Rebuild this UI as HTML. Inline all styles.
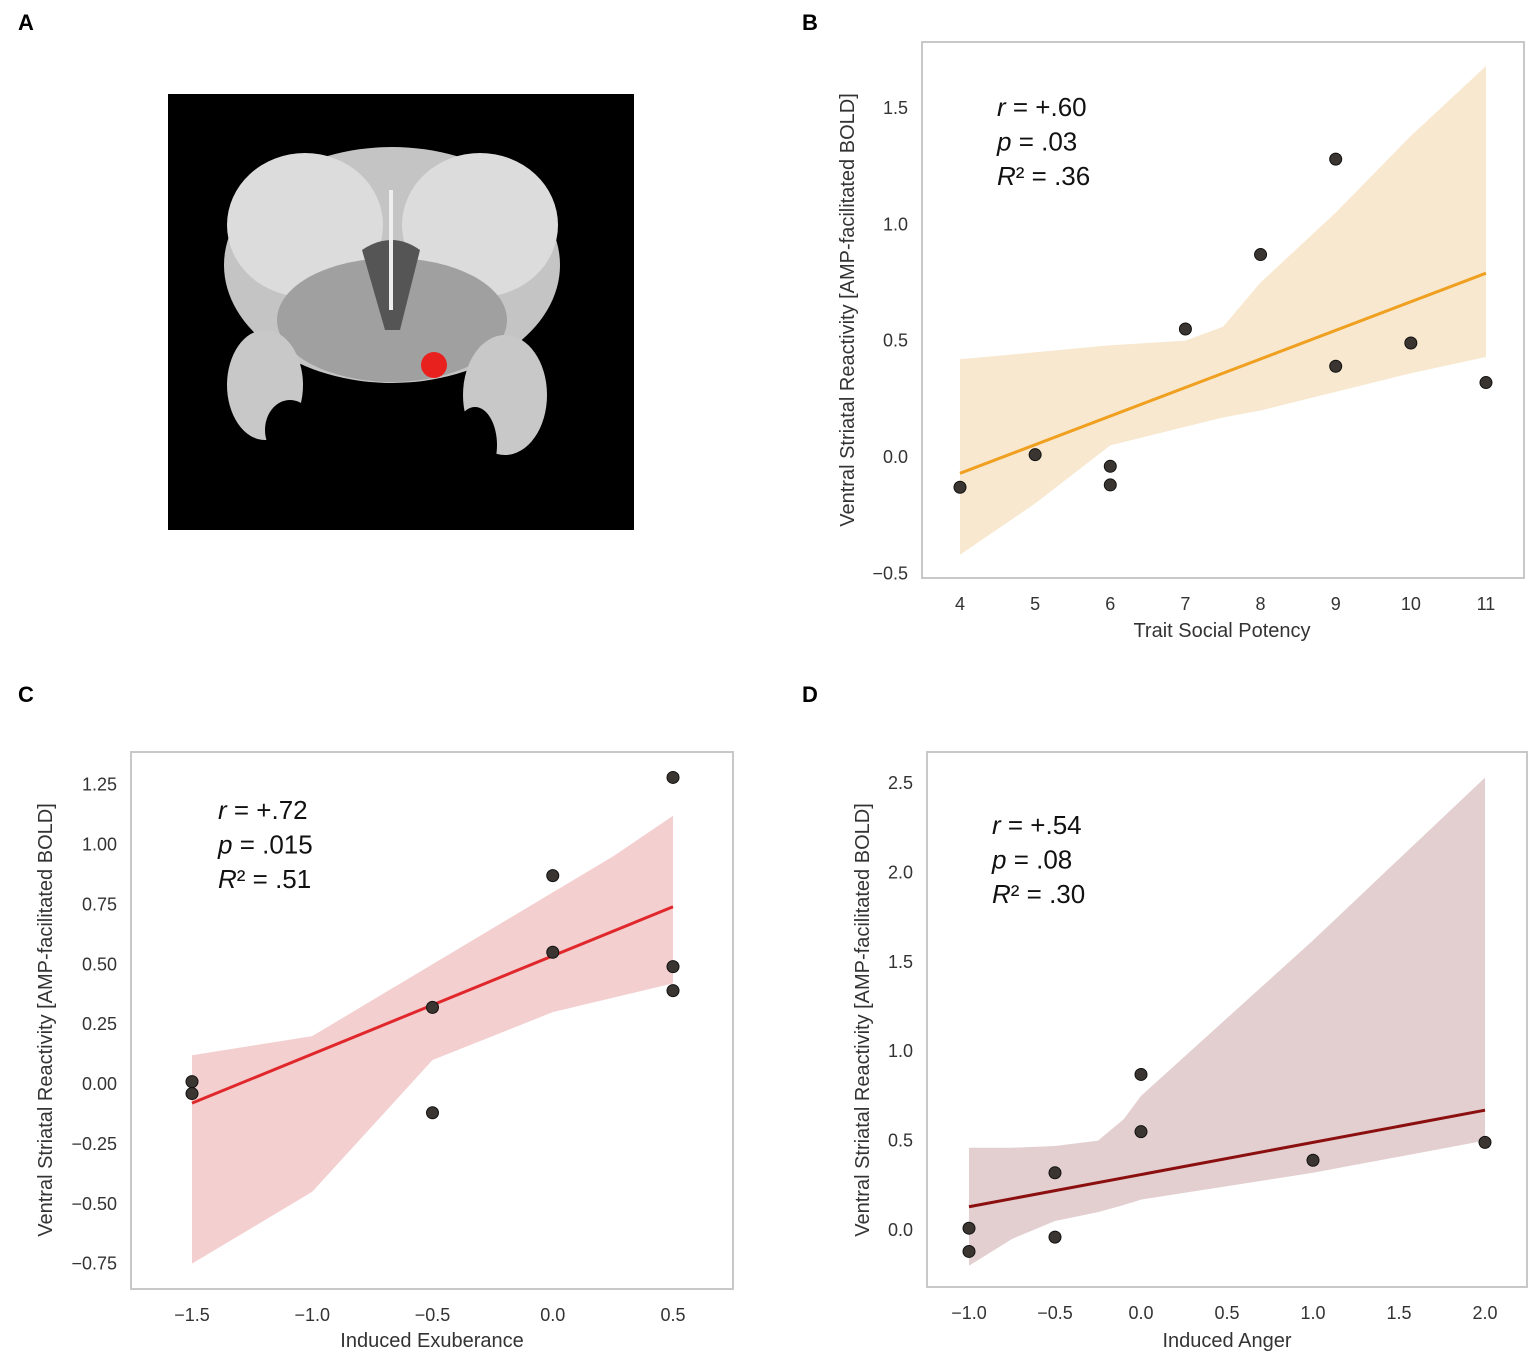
<!DOCTYPE html>
<html><head><meta charset="utf-8"><style>
body{margin:0;background:#fff;width:1535px;height:1365px;overflow:hidden;font-family:"Liberation Sans",sans-serif}
svg text{font-family:"Liberation Sans",sans-serif}
</style></head><body>
<svg id="fig" width="1535" height="1365" viewBox="0 0 1535 1365">
<text x="18" y="30" font-size="22" font-weight="bold">A</text>
<text x="802" y="30" font-size="22" font-weight="bold">B</text>
<text x="18" y="702" font-size="22" font-weight="bold">C</text>
<text x="802" y="702" font-size="22" font-weight="bold">D</text>
<g>
<rect x="168" y="94" width="466" height="436" fill="#000"/>
<ellipse cx="392" cy="265" rx="168" ry="118" fill="#c4c4c4"/>
<ellipse cx="305" cy="225" rx="78" ry="72" fill="#dcdcdc"/>
<ellipse cx="480" cy="225" rx="78" ry="72" fill="#dcdcdc"/>
<ellipse cx="392" cy="320" rx="115" ry="62" fill="#a0a0a0"/>
<ellipse cx="265" cy="385" rx="38" ry="55" fill="#c8c8c8"/>
<ellipse cx="505" cy="395" rx="42" ry="60" fill="#c8c8c8"/>
<ellipse cx="290" cy="430" rx="25" ry="30" fill="#000"/>
<ellipse cx="475" cy="445" rx="22" ry="38" fill="#000"/>
<path d="M362 250 Q392 230 420 250 L400 330 L385 330 Z" fill="#555"/>
<rect x="389" y="190" width="4" height="120" fill="#eee"/>
<circle cx="434" cy="365" r="13" fill="#e8201e"/>
</g>
</svg>
<script>
// Panel B data
const bX=[4,5,6,6,7,8,9,9,10,11];
const bY=[-0.13,0.01,-0.04,-0.12,0.55,0.87,1.28,0.39,0.49,0.32];
const bLine=[[4,-0.07],[11,0.79]];
const bBandX=[4,5,6,7,7.5,8,9,10,11];
const bUpper=[0.42,0.45,0.48,0.50,0.56,0.75,1.05,1.38,1.68];
const bLower=[-0.42,-0.2,0.05,0.13,0.17,0.2,0.28,0.36,0.43];
const bXTicks=[4,5,6,7,8,9,10,11];
const bXTickLabels=["4","5","6","7","8","9","10","11"];
const bYTicks=[-0.5,0,0.5,1.0,1.5];
const bYTickLabels=["\u22120.5","0.0","0.5","1.0","1.5"];
// Panel C data
const cX=[-1.5,-1.5,-0.5,-0.5,0,0,0.5,0.5,0.5];
const cY=[0.01,-0.04,0.32,-0.12,0.87,0.55,1.28,0.49,0.39];
const cLine=[[-1.5,-0.08],[0.5,0.74]];
const cBandX=[-1.5,-1,-0.5,0,0.25,0.5];
const cUpper=[0.12,0.2,0.5,0.8,0.95,1.12];
const cLower=[-0.75,-0.45,0.1,0.3,0.36,0.42];
const cXTicks=[-1.5,-1.0,-0.5,0.0,0.5];
const cXTickLabels=["\u22121.5","\u22121.0","\u22120.5","0.0","0.5"];
const cYTicks=[-0.75,-0.5,-0.25,0,0.25,0.5,0.75,1.0,1.25];
const cYTickLabels=["\u22120.75","\u22120.50","\u22120.25","0.00","0.25","0.50","0.75","1.00","1.25"];
// Panel D data
const dX=[-1,-1,-0.5,-0.5,0,0,1,2];
const dY=[0.01,-0.12,0.32,-0.04,0.87,0.55,0.39,0.49];
const dLine=[[-1,0.13],[2,0.67]];
const dBandX=[-1,-0.75,-0.5,-0.25,-0.1,0,1,2];
const dUpper=[0.46,0.46,0.47,0.5,0.62,0.75,1.62,2.53];
const dLower=[-0.2,-0.05,0.05,0.1,0.14,0.17,0.32,0.5];
const dXTicks=[-1,-0.5,0,0.5,1,1.5,2];
const dXTickLabels=["\u22121.0","\u22120.5","0.0","0.5","1.0","1.5","2.0"];
const dYTicks=[0,0.5,1,1.5,2,2.5];
const dYTickLabels=["0.0","0.5","1.0","1.5","2.0","2.5"];

const NS="http://www.w3.org/2000/svg";
const svg=document.getElementById('fig');
function mk(tag,attrs,parent){const e=document.createElementNS(NS,tag);for(const k in attrs)e.setAttribute(k,attrs[k]);(parent||svg).appendChild(e);return e;}

function panel(id,cfg){
  const g=mk('g',{});
  
  
  const sx=v=>cfg.x0px+(v-cfg.x0v)*cfg.xs;
  const sy=v=>cfg.y0px-(v-cfg.y0v)*cfg.ys;
  const fr=mk('rect',{x:cfg.fx,y:cfg.fy,width:cfg.fw,height:cfg.fh,fill:'#fff',stroke:'#c8c8c8','stroke-width':2},g);
  
  
  let d='';
  cfg.bx.forEach((x,i)=>{d+=(i?'L':'M')+sx(x)+' '+sy(cfg.up[i]);});
  for(let i=cfg.bx.length-1;i>=0;i--)d+='L'+sx(cfg.bx[i])+' '+sy(cfg.lo[i]);
  const band=mk('path',{d:d+'Z',fill:cfg.band},g);
  
  
  const ln=mk('line',{x1:sx(cfg.line[0][0]),y1:sy(cfg.line[0][1]),x2:sx(cfg.line[1][0]),y2:sy(cfg.line[1][1]),stroke:cfg.lc,'stroke-width':3},g);
  
  
  cfg.px.forEach((x,i)=>{
    const c=mk('circle',{cx:sx(x),cy:sy(cfg.py[i]),r:6,fill:'#3a3530',stroke:'#111','stroke-width':1},g);
    
    
  });
  cfg.xt.forEach((v,i)=>{
    const t=mk('text',{x:sx(v),y:cfg.fy+cfg.fh+32,'font-size':18,fill:'#333','text-anchor':'middle'},g);
    t.textContent=cfg.xtl[i];
    
    
  });
  cfg.yt.forEach((v,i)=>{
    const t=mk('text',{x:cfg.fx-14,y:sy(v)+6,'font-size':18,fill:'#333','text-anchor':'end'},g);
    t.textContent=cfg.ytl[i];
    
    
  });
  const xt=mk('text',{x:cfg.xtx,y:cfg.xty,'font-size':20,fill:'#333','text-anchor':'middle'},g);
  xt.textContent=cfg.xtitle;
  
  
  const yt=mk('text',{x:0,y:0,'font-size':20,fill:'#333','text-anchor':'middle',transform:`translate(${cfg.ytx},${cfg.yty}) rotate(-90)`},g);
  yt.textContent='Ventral Striatal Reactivity [AMP-facilitated BOLD]';
  
  
  const ann=mk('g',{},g);
  
  
  const lines=[['r',' = '+cfg.r],['p',' = '+cfg.p],['R','\u00b2 = '+cfg.r2]];
  lines.forEach((l,i)=>{
    const t=mk('text',{x:cfg.ax,y:cfg.ay+i*34.5,'font-size':26,fill:'#111'},ann);
    const a=mk('tspan',{'font-style':'italic'},t);a.textContent=l[0];
    const b=mk('tspan',{},t);b.textContent=l[1];
  });
}
panel('panel-b',{fx:922,fy:42,fw:602,fh:536,x0v:4,x0px:960,xs:75.14,y0v:0,y0px:457,ys:232.7,
  bx:bBandX,up:bUpper,lo:bLower,line:bLine,px:bX,py:bY,band:'#f8e8cf',lc:'#f0a020',
  xt:bXTicks,xtl:bXTickLabels,yt:bYTicks,ytl:bYTickLabels,xtitle:'Trait Social Potency',xtx:1222,xty:637,ytx:854,yty:310,
  r:'+.60',p:'.03',r2:'.36',ax:997,ay:116});
panel('panel-c',{fx:131,fy:752,fw:602,fh:537,x0v:-1.5,x0px:192,xs:240.5,y0v:0,y0px:1084,ys:239.5,
  bx:cBandX,up:cUpper,lo:cLower,line:cLine,px:cX,py:cY,band:'#f3cfcf',lc:'#e0282c',
  xt:cXTicks,xtl:cXTickLabels,yt:cYTicks,ytl:cYTickLabels,xtitle:'Induced Exuberance',xtx:432,xty:1347,ytx:52,yty:1020,
  r:'+.72',p:'.015',r2:'.51',ax:218,ay:819});
panel('panel-d',{fx:927,fy:752,fw:600,fh:535,x0v:0,x0px:1141,xs:172,y0v:0,y0px:1230,ys:178.8,
  bx:dBandX,up:dUpper,lo:dLower,line:dLine,px:dX,py:dY,band:'#e3cfd0',lc:'#8b0f0f',
  xt:dXTicks,xtl:dXTickLabels,yt:dYTicks,ytl:dYTickLabels,xtitle:'Induced Anger',xtx:1227,xty:1347,ytx:869,yty:1020,
  r:'+.54',p:'.08',r2:'.30',ax:992,ay:834});
</script>
</body></html>
